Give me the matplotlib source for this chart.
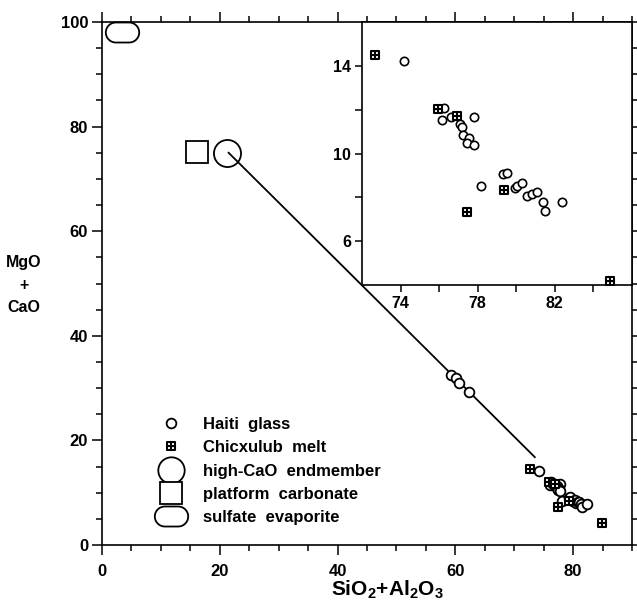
import matplotlib
matplotlib.use('Agg')
import matplotlib.pyplot as plt
import numpy as np
from matplotlib.path import Path
from matplotlib.lines import Line2D

plt.rcParams['font.family'] = ['Liberation Sans', 'DejaVu Sans']
plt.rcParams['font.weight'] = 'bold'
plt.rcParams['mathtext.fontset'] = 'custom'
plt.rcParams['mathtext.bf'] = 'Liberation Sans:bold'
plt.rcParams['mathtext.rm'] = 'Liberation Sans:bold'
plt.rcParams['mathtext.default'] = 'bf'

# Haiti glass (SiO2+Al2O3, MgO+CaO)
haiti_x = [59.2, 60.1, 60.6, 62.3,
           74.18, 76.25, 76.16, 76.63, 77.82, 77.07, 77.21, 77.26, 77.56, 77.44, 77.79,
           78.18, 79.32, 79.53, 79.93, 80.02, 80.32, 80.54, 80.81, 81.07, 81.39, 81.51, 82.35]
haiti_y = [32.6, 32.0, 31.0, 29.3,
           14.21, 12.06, 11.53, 11.68, 11.67, 11.33, 11.23, 10.85, 10.73, 10.47, 10.39,
           8.50, 9.06, 9.11, 8.42, 8.50, 8.65, 8.05, 8.15, 8.24, 7.77, 7.36, 7.77]

# Chicxulub melt
chicx_x = [72.65, 75.95, 76.95, 79.35, 77.47, 84.88]
chicx_y = [14.48, 12.03, 11.71, 8.32, 7.33, 4.18]

# endmembers
highcao_x, highcao_y = [21.3], [75.0]
platform_x, platform_y = [16.2], [75.1]
sulfate_x, sulfate_y = [3.4], [98.1]

# mixing line
mix_x = [21.5, 73.5]
mix_y = [75.0, 16.8]

legend_labels = ['Haiti  glass', 'Chicxulub  melt', 'high-CaO  endmember',
                 'platform  carbonate', 'sulfate  evaporite']

# custom marker shapes
box = [(-1, -1), (1, -1), (1, 1), (-1, 1), (-1, -1), (0, -1), (0, 1), (-1, 0), (1, 0)]
codes = [Path.MOVETO, Path.LINETO, Path.LINETO, Path.LINETO, Path.CLOSEPOLY,
         Path.MOVETO, Path.LINETO, Path.MOVETO, Path.LINETO]
cross_sq = Path(box, codes)

th = np.linspace(-np.pi / 2, np.pi / 2, 20)
r = 0.6
right = np.column_stack([1.0 - r + r * np.cos(th), r * np.sin(th)])
left = np.column_stack([-1.0 + r - r * np.cos(th), -r * np.sin(th)])
stad = np.vstack([right, left, right[:1]])
stadium = Path(stad)

fig = plt.figure(figsize=(6.37, 6.11), dpi=100)
ax = fig.add_axes([102/637, 66/611, 530/637, 523/611])

ax.plot(mix_x, mix_y, color='black', lw=1.3, zorder=1)
ax.plot(haiti_x, haiti_y, 'o', ms=7, mfc='white', mec='black', mew=1.3, zorder=3)
ax.plot(chicx_x, chicx_y, ls='none', marker=cross_sq, ms=6, mfc='white', mec='black', mew=1.5, zorder=3)
ax.plot(highcao_x, highcao_y, 'o', ms=19.5, mfc='none', mec='black', mew=1.3, zorder=2)
ax.plot(platform_x, platform_y, 's', ms=16.5, mfc='white', mec='black', mew=1.3, zorder=2)
ax.plot(sulfate_x, sulfate_y, ls='none', marker=stadium, ms=24, mfc='white', mec='black', mew=1.3,
        zorder=2, clip_on=False)

ax.set_xlim(0, 90)
ax.set_ylim(0, 100)
ax.set_xticks([0, 20, 40, 60, 80])
ax.set_yticks([0, 20, 40, 60, 80, 100])
ax.set_xticks(np.arange(0, 91, 5), minor=True)
ax.set_yticks(np.arange(0, 101, 5), minor=True)
ax.tick_params(which='both', direction='out', top=True, right=True, width=1.1)
ax.tick_params(which='major', length=7, labelsize=12)
ax.tick_params(which='minor', length=4.5)
ax.tick_params(axis='x', pad=7)
ax.tick_params(axis='y', pad=3)
for s in ax.spines.values():
    s.set_linewidth(1.2)

ax.set_xlabel('SiO$_2$+Al$_2$O$_3$', fontsize=15, fontweight='bold')
ax.xaxis.set_label_coords(0.538, -0.065)
ax.set_ylabel('MgO\n+\nCaO', fontsize=11.5, fontweight='bold', rotation=0,
              linespacing=1.6, ha='center', va='center')
ax.yaxis.set_label_coords(-0.148, 0.497)

handles = [
    Line2D([], [], ls='none', marker='o', ms=7, mfc='white', mec='black', mew=1.3),
    Line2D([], [], ls='none', marker=cross_sq, ms=6, mfc='white', mec='black', mew=1.5),
    Line2D([], [], ls='none', marker='o', ms=19, mfc='white', mec='black', mew=1.3),
    Line2D([], [], ls='none', marker='s', ms=15.5, mfc='white', mec='black', mew=1.3),
    Line2D([], [], ls='none', marker=stadium, ms=24, mfc='white', mec='black', mew=1.3),
]
ax.legend(handles, legend_labels, loc='upper left', bbox_to_anchor=(0.099, 0.245),
          frameon=False, borderpad=0, borderaxespad=0, handlelength=2.0,
          handletextpad=0.9, labelspacing=0.5, prop={'size': 12, 'weight': 'bold'})

# inset
axi = fig.add_axes([362/637, 326/611, 270/637, 263/611])
axi.plot(haiti_x, haiti_y, 'o', ms=6, mfc='white', mec='black', mew=1.2)
axi.plot(chicx_x, chicx_y, ls='none', marker=cross_sq, ms=5.5, mfc='white', mec='black', mew=1.5)
axi.set_xlim(72, 86)
axi.set_ylim(4, 16)
axi.set_xticks([74, 78, 82])
axi.set_xticks([76, 80, 84], minor=True)
axi.set_yticks([6, 10, 14])
axi.set_yticks([8, 12], minor=True)
axi.tick_params(which='both', direction='out', length=5, width=1.1, labelsize=11.5, pad=3)
for s in axi.spines.values():
    s.set_linewidth(1.2)

fig.savefig('out.png', dpi=100)
